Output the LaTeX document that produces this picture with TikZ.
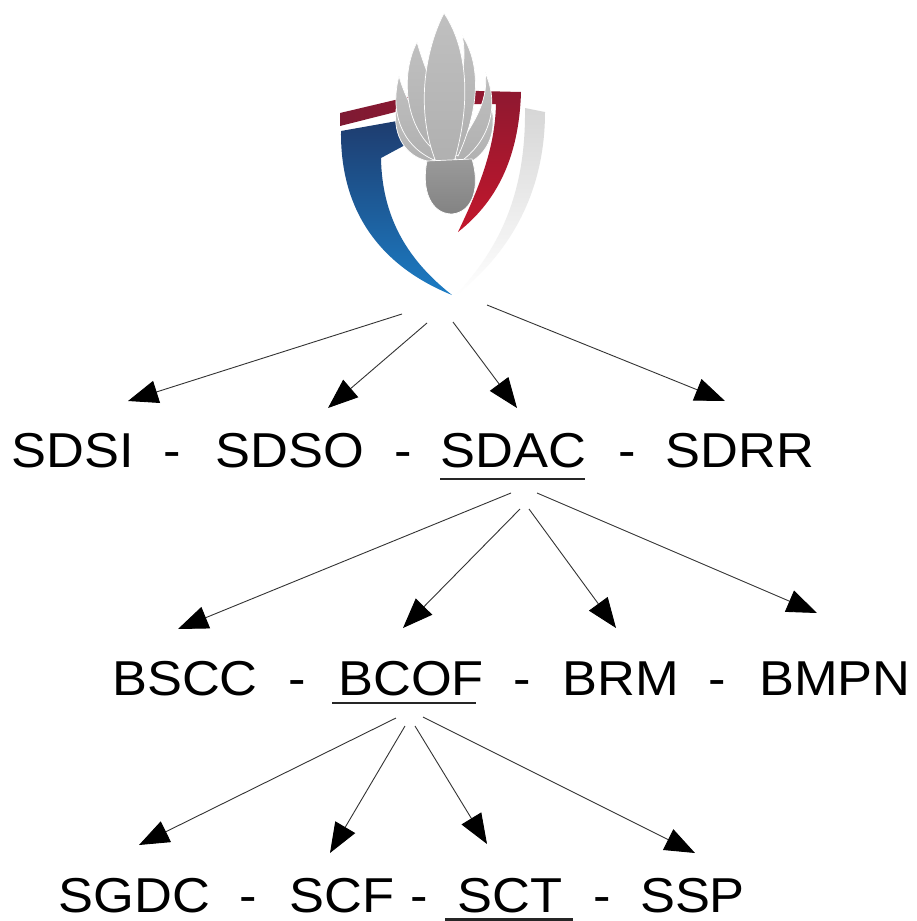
\documentclass[tikz,border=0pt]{standalone}
\usepackage{fontspec}
\setmainfont{Liberation Sans}
\usetikzlibrary{arrows.meta}
\newcommand\sx[1]{\scalebox{1.07}[1]{#1}}
\definecolor{maroon}{HTML}{7E1A33}
\definecolor{navy}{HTML}{1E3A6C}
\definecolor{bblue}{HTML}{1C7CC4}
\definecolor{rred}{HTML}{C3172C}
\definecolor{dred}{HTML}{8E1830}
\definecolor{lgray}{HTML}{D6D6D6}
\definecolor{fgray}{HTML}{B0B0B0}
\definecolor{bgray}{HTML}{9A9A9A}
\begin{document}
\begin{tikzpicture}[x=1pt,y=-1pt,
  word/.style={inner sep=0pt, anchor=base, font=\fontsize{49}{55}\selectfont},
  conn/.style={draw=black!80, line width=0.9pt, -{Triangle[length=30pt,width=23pt,color=black]}},
  uline/.style={line width=2.2pt, black!85},
  flame/.style={top color=fgray!80, bottom color=fgray, draw=white, line width=0.7pt}]
\useasboundingbox (0,0) rectangle (917,921);
\fill[white] (0,0) rectangle (917,921);

% ---------- logo ----------
\shade[left color=maroon, right color=dred] (340,113) -- (433,91) -- (435,102) -- (340,126) -- cycle;
\shade[top color=navy, bottom color=bblue]
  (341,131) -- (431,115) -- (433,130) -- (381,158)
  .. controls (382,220) and (410,262) .. (452,295)
  .. controls (395,272) and (340,225) .. (341,131) -- cycle;
\shade[top color=dred, bottom color=rred]
  (437,90) -- (521,92)
  .. controls (519,160) and (495,203) .. (458,232)
  .. controls (478,190) and (495,150) .. (496,104)
  -- (440,104) -- cycle;
\shade[top color=lgray, bottom color=white]
  (525,108) -- (545,112)
  .. controls (545,190) and (512,252) .. (455,296)
  .. controls (502,246) and (526,190) .. (525,108) -- cycle;
% flames
\shade[flame] (432,162) .. controls (405,158) and (393,135) .. (396,110) .. controls (408,135) and (425,145) .. (440,152) -- cycle;
\shade[flame] (434,160) .. controls (400,145) and (390,110) .. (399,76) .. controls (410,115) and (430,130) .. (442,146) -- cycle;
\shade[flame] (434,150) .. controls (405,125) and (400,75) .. (417,42) .. controls (428,80) and (445,110) .. (446,140) -- cycle;
\shade[flame] (456,160) .. controls (475,150) and (490,130) .. (490,100) .. controls (500,135) and (485,158) .. (462,166) -- cycle;
\shade[flame] (452,156) .. controls (468,130) and (490,105) .. (485,72) .. controls (502,110) and (485,145) .. (460,162) -- cycle;
\shade[flame] (448,150) .. controls (452,105) and (470,70) .. (462,35) .. controls (485,70) and (475,120) .. (458,156) -- cycle;
\shade[flame] (436,162) .. controls (415,110) and (425,50) .. (444,13) .. controls (472,55) and (468,115) .. (454,162) -- cycle;
% grenade body
\shade[top color=bgray, bottom color=bgray!85!black, draw=white, line width=0.7pt]
  (427,161) -- (472,159) .. controls (480,185) and (474,212) .. (452,214)
  .. controls (431,214) and (421,190) .. (427,161) -- cycle;

% ---------- row 1 ----------
\node[word] (sdsi) at (72.5,467) {\sx{SDSI}};
\node[word] (d1a)  at (172,467) {\sx{-}};
\node[word] (sdso) at (289.5,467) {\sx{SDSO}};
\node[word] (d1b)  at (403,467) {\sx{-}};
\node[word] (sdac) at (513.5,467) {\sx{SDAC}};
\node[word] (d1c)  at (627,467) {\sx{-}};
\node[word] (sdrr) at (740,467) {\sx{SDRR}};
\draw[uline] (440,479) -- (585,479);

% ---------- row 2 ----------
\node[word] (bscc) at (185,695) {\sx{BSCC}};
\node[word] (d2a)  at (297,695) {\sx{-}};
\node[word] (bcof) at (411,695) {\sx{BCOF}};
\node[word] (d2b)  at (522,695) {\sx{-}};
\node[word] (brm)  at (621,695) {\sx{BRM}};
\node[word] (d2c)  at (717,695) {\sx{-}};
\node[word] (bmpn) at (835,695) {\sx{BMPN}};
\draw[uline] (332,703) -- (476,703);

% ---------- row 3 ----------
\node[word] (sgdc) at (134.5,912) {\sx{SGDC}};
\node[word] (d3a)  at (248,912) {\sx{-}};
\node[word] (scf)  at (342,912) {\sx{SCF}};
\node[word] (d3b)  at (419,912) {\sx{-}};
\node[word] (sct)  at (510,912) {\sx{SCT}};
\node[word] (d3c)  at (602,912) {\sx{-}};
\node[word] (ssp)  at (692.5,912) {\sx{SSP}};
\draw[uline] (445,919.5) -- (573,919.5);

% ---------- connector ends ----------
\coordinate (l1) at (402,314); \coordinate (t1) at (128,401);
\coordinate (l2) at (427,323); \coordinate (t2) at (328,408);
\coordinate (l3) at (453,322); \coordinate (t3) at (517,408);
\coordinate (l4) at (487,305); \coordinate (t4) at (725,401);
\coordinate (a1) at (511,493); \coordinate (u1) at (178,629);
\coordinate (a2) at (520,509); \coordinate (u2) at (403,628);
\coordinate (a3) at (529,509); \coordinate (u3) at (616,628);
\coordinate (a4) at (537,493); \coordinate (u4) at (817,613);
\coordinate (b1) at (396,718); \coordinate (v1) at (139,845);
\coordinate (b2) at (405,726); \coordinate (v2) at (330,853);
\coordinate (b3) at (415,726); \coordinate (v3) at (487,844);
\coordinate (b4) at (423,717); \coordinate (v4) at (695,853);

\foreach \s/\t in {l1/t1,l2/t2,l3/t3,l4/t4,a1/u1,a2/u2,a3/u3,a4/u4,b1/v1,b2/v2,b3/v3,b4/v4}
  \draw[conn] (\s) -- (\t);
\end{tikzpicture}
\end{document}
